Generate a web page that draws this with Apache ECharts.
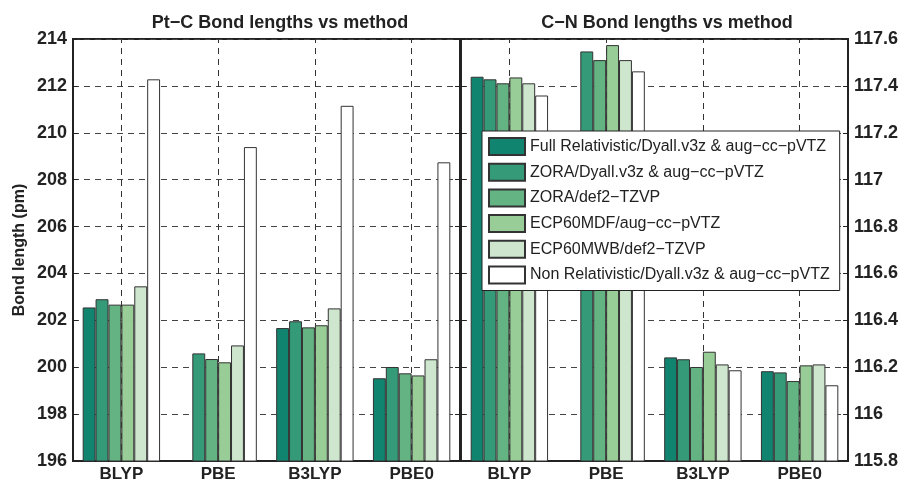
<!DOCTYPE html>
<html>
<head>
<meta charset="utf-8">
<script src="https://cdn.jsdelivr.net/npm/echarts@6/dist/echarts.min.js"></script>
<style>html,body{margin:0;padding:0;background:#fff;}#c{width:902px;height:486px;}</style>
</head>
<body>
<div id="c"></div>
<script>
var categories = ['BLYP', 'PBE', 'B3LYP', 'PBE0'];
var seriesNames = [
  'Full Relativistic/Dyall.v3z & aug\u2212cc\u2212pVTZ',
  'ZORA/Dyall.v3z & aug\u2212cc\u2212pVTZ',
  'ZORA/def2\u2212TZVP',
  'ECP60MDF/aug\u2212cc\u2212pVTZ',
  'ECP60MWB/def2\u2212TZVP',
  'Non Relativistic/Dyall.v3z & aug\u2212cc\u2212pVTZ'
];
var seriesColors = ['#118470', '#359a78', '#64b383', '#98cd97', '#cde6cd', '#ffffff'];

// Pt-C bond lengths (pm)
var ptcFull      = [202.55, null,   201.67, 199.53];
var ptcZoraDyall = [202.90, 200.59, 201.96, 200.01];
var ptcZoraDef2  = [202.67, 200.35, 201.70, 199.74];
var ptcEcpMDF    = [202.67, 200.21, 201.79, 199.65];
var ptcEcpMWB    = [203.45, 200.93, 202.51, 200.34];
var ptcNonRel    = [212.28, 209.39, 211.15, 208.74];

// C-N bond lengths (pm)
var cnFull      = [117.439, null,    116.242, 116.183];
var cnZoraDyall = [117.428, 117.547, 116.234, 116.178];
var cnZoraDef2  = [117.411, 117.510, 116.201, 116.141];
var cnEcpMDF    = [117.436, 117.574, 116.266, 116.208];
var cnEcpMWB    = [117.411, 117.510, 116.212, 116.212];
var cnNonRel    = [117.359, 117.462, 116.187, 116.123];

var titles = ['Pt\u2212C Bond lengths vs method', 'C\u2212N Bond lengths vs method'];
var yName = 'Bond length (pm)';

var ptcData = [ptcFull, ptcZoraDyall, ptcZoraDef2, ptcEcpMDF, ptcEcpMWB, ptcNonRel];
var cnData = [cnFull, cnZoraDyall, cnZoraDef2, cnEcpMDF, cnEcpMWB, cnNonRel];

var FONT = '"Liberation Sans", Arial, sans-serif';
var dash = [6, 5];

function barSeries(name, data, color, xi, yi) {
  return {
    name: name, type: 'bar', xAxisIndex: xi, yAxisIndex: yi, data: data,
    barGap: '0%', barCategoryGap: '20%', z: 3,
    itemStyle: { color: color, borderColor: '#333', borderWidth: 1 }
  };
}
function gridLines(xi, yi) {
  return {
    name: 'grid' + xi, type: 'line', xAxisIndex: xi, yAxisIndex: yi,
    data: [null, null, null, null], showSymbol: false, silent: true, z: 1,
    markLine: {
      silent: true, symbol: 'none', z: 1, animation: false,
      label: { show: false },
      lineStyle: { type: dash, color: '#333', width: 1 },
      data: categories.map(function (c) { return { xAxis: c }; })
    }
  };
}

var series = [];
for (var i = 0; i < 6; i++) series.push(barSeries(seriesNames[i], ptcData[i], seriesColors[i], 0, 0));
for (var j = 0; j < 6; j++) series.push(barSeries(seriesNames[j], cnData[j], seriesColors[j], 1, 3));
series.push(gridLines(0, 0));
series.push(gridLines(1, 3));

var tickLabel = { fontFamily: FONT, fontWeight: 'bold', fontSize: 18, color: '#222' };
function yAxisDef(grid, pos, min, max, interval, showLabel, showSplit) {
  return {
    type: 'value', gridIndex: grid, position: pos, min: min, max: max, interval: interval,
    axisLine: { show: false },
    axisTick: { show: true, inside: true, length: 5, lineStyle: { color: '#222', width: 1 } },
    axisLabel: Object.assign({ show: showLabel, margin: 6 }, tickLabel),
    splitLine: { show: showSplit, lineStyle: { type: dash, color: '#444', width: 1 } }
  };
}

var option = {
  animation: false,
  backgroundColor: '#fff',
  grid: [
    { left: 73, right: 442, top: 39, bottom: 25, show: true, borderColor: '#222', borderWidth: 2, backgroundColor: 'transparent' },
    { left: 461, right: 54, top: 39, bottom: 25, show: true, borderColor: '#222', borderWidth: 2, backgroundColor: 'transparent' }
  ],
  xAxis: [0, 1].map(function (g) {
    return {
      type: 'category', gridIndex: g, data: categories,
      axisLine: { show: true, lineStyle: { color: '#222', width: 2 } },
      axisTick: { show: false },
      axisLabel: { fontFamily: FONT, fontWeight: 'bold', fontSize: 17, color: '#222', margin: 5 },
      splitLine: { show: false }
    };
  }),
  yAxis: [
    Object.assign(yAxisDef(0, 'left', 196, 214, 2, true, true), {
      name: yName, nameLocation: 'middle', nameGap: 45, nameRotate: 90,
      nameTextStyle: { fontFamily: FONT, fontWeight: 'bold', fontSize: 16, color: '#222' }
    }),
    yAxisDef(0, 'right', 196, 214, 2, false, false),
    yAxisDef(1, 'left', 115.8, 117.6, 0.2, false, false),
    yAxisDef(1, 'right', 115.8, 117.6, 0.2, true, true)
  ],
  legend: {
    data: seriesNames, orient: 'vertical', left: 482, top: 131,
    itemWidth: 36, itemHeight: 17, itemGap: 6.7, itemTextGap: 5,
    padding: [6, 10, 6, 6],
    backgroundColor: '#fff', borderColor: '#222', borderWidth: 1, borderRadius: 0,
    icon: 'rect', z: 10,
    textStyle: { fontFamily: FONT, fontSize: 16, color: '#222' }
  },
  graphic: [
    { type: 'text', x: 280, y: 23, style: { text: titles[0], fontFamily: FONT, fontWeight: 'bold', fontSize: 18, fill: '#222', textAlign: 'center', textVerticalAlign: 'middle' } },
    { type: 'text', x: 667, y: 23, style: { text: titles[1], fontFamily: FONT, fontWeight: 'bold', fontSize: 18, fill: '#222', textAlign: 'center', textVerticalAlign: 'middle' } }
  ],
  series: series
};

var chart = echarts.init(document.getElementById('c'), null, { renderer: 'canvas' });
chart.setOption(option);
</script>
</body>
</html>
